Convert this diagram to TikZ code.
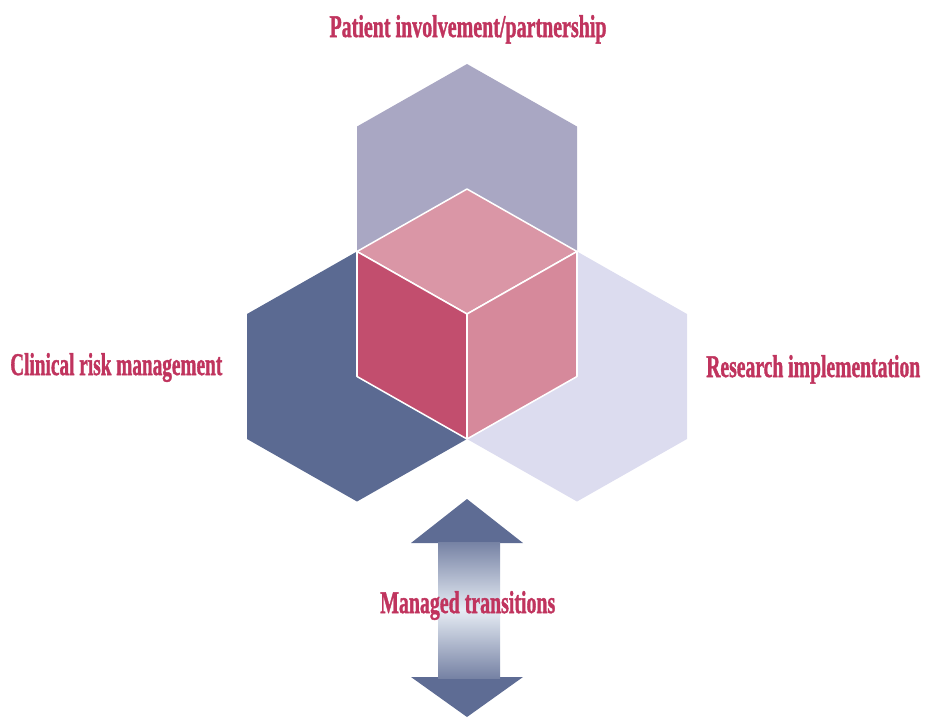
\documentclass[tikz,border=0pt]{standalone}
\usepackage{fontspec}
\setmainfont{Liberation Serif}
\newfontfamily\labfam[FakeBold=1.6]{Liberation Serif Bold}
\usepackage{graphicx}
\definecolor{hexTopC}{HTML}{A9A7C3}
\definecolor{hexLeftC}{HTML}{5B6A92}
\definecolor{hexRightC}{HTML}{DCDCEF}
\definecolor{cubeTopC}{HTML}{DA96A6}
\definecolor{cubeLeftC}{HTML}{C24E6E}
\definecolor{cubeRightC}{HTML}{D6899B}
\definecolor{arrowC}{HTML}{5E6C94}
\definecolor{arrowMid}{HTML}{E6ECF4}
\definecolor{labelC}{HTML}{C0345E}
\newcommand{\labfont}{\labfam\fontsize{27}{30}\selectfont}
\begin{document}
\begin{tikzpicture}[x=0.03cm,y=-0.03cm,
  face/.style={draw=white,line width=1.3pt,line join=round},
  lab/.style={text=labelC,inner sep=0pt,font=\labfont}]
\useasboundingbox (0,0) rectangle (926,719);

% three outer hexagons
\fill[hexTopC] (467,64) -- (577,126.5) -- (577,251.5) -- (467,314) -- (357,251.5) -- (357,126.5) -- cycle;
\fill[hexLeftC] (357,251.5) -- (467,314) -- (467,439) -- (357,501.5) -- (247,439) -- (247,314) -- cycle;
\fill[hexRightC] (577,251.5) -- (687,314) -- (687,439) -- (577,501.5) -- (467,439) -- (467,314) -- cycle;

% central cube
\filldraw[face,fill=cubeTopC] (467,189) -- (577,251.5) -- (467,314) -- (357,251.5) -- cycle;
\filldraw[face,fill=cubeLeftC] (357,251.5) -- (467,314) -- (467,439) -- (357,376.5) -- cycle;
\filldraw[face,fill=cubeRightC] (467,314) -- (577,251.5) -- (577,376.5) -- (467,439) -- cycle;

% double-headed arrow
\fill[arrowC] (467,499) -- (523,543) -- (411,543) -- cycle;
\fill[arrowC] (411,677) -- (523,677) -- (467,717) -- cycle;
\shade[top color=arrowC!85,bottom color=arrowC!85,middle color=arrowMid] (438,542) rectangle (500,678);

% labels
\node[lab,anchor=base] (top) at (468,37) {\resizebox{8.31cm}{\height}{Patient involvement/partnership}};
\node[lab,anchor=base west] (left) at (10,375) {\resizebox{6.36cm}{\height}{Clinical risk management}};
\node[lab,anchor=base west] (right) at (706,377) {\resizebox{6.42cm}{\height}{Research implementation}};
\node[lab,anchor=base west] (mid) at (380,613) {\resizebox{5.25cm}{\height}{Managed transitions}};
\end{tikzpicture}
\end{document}
